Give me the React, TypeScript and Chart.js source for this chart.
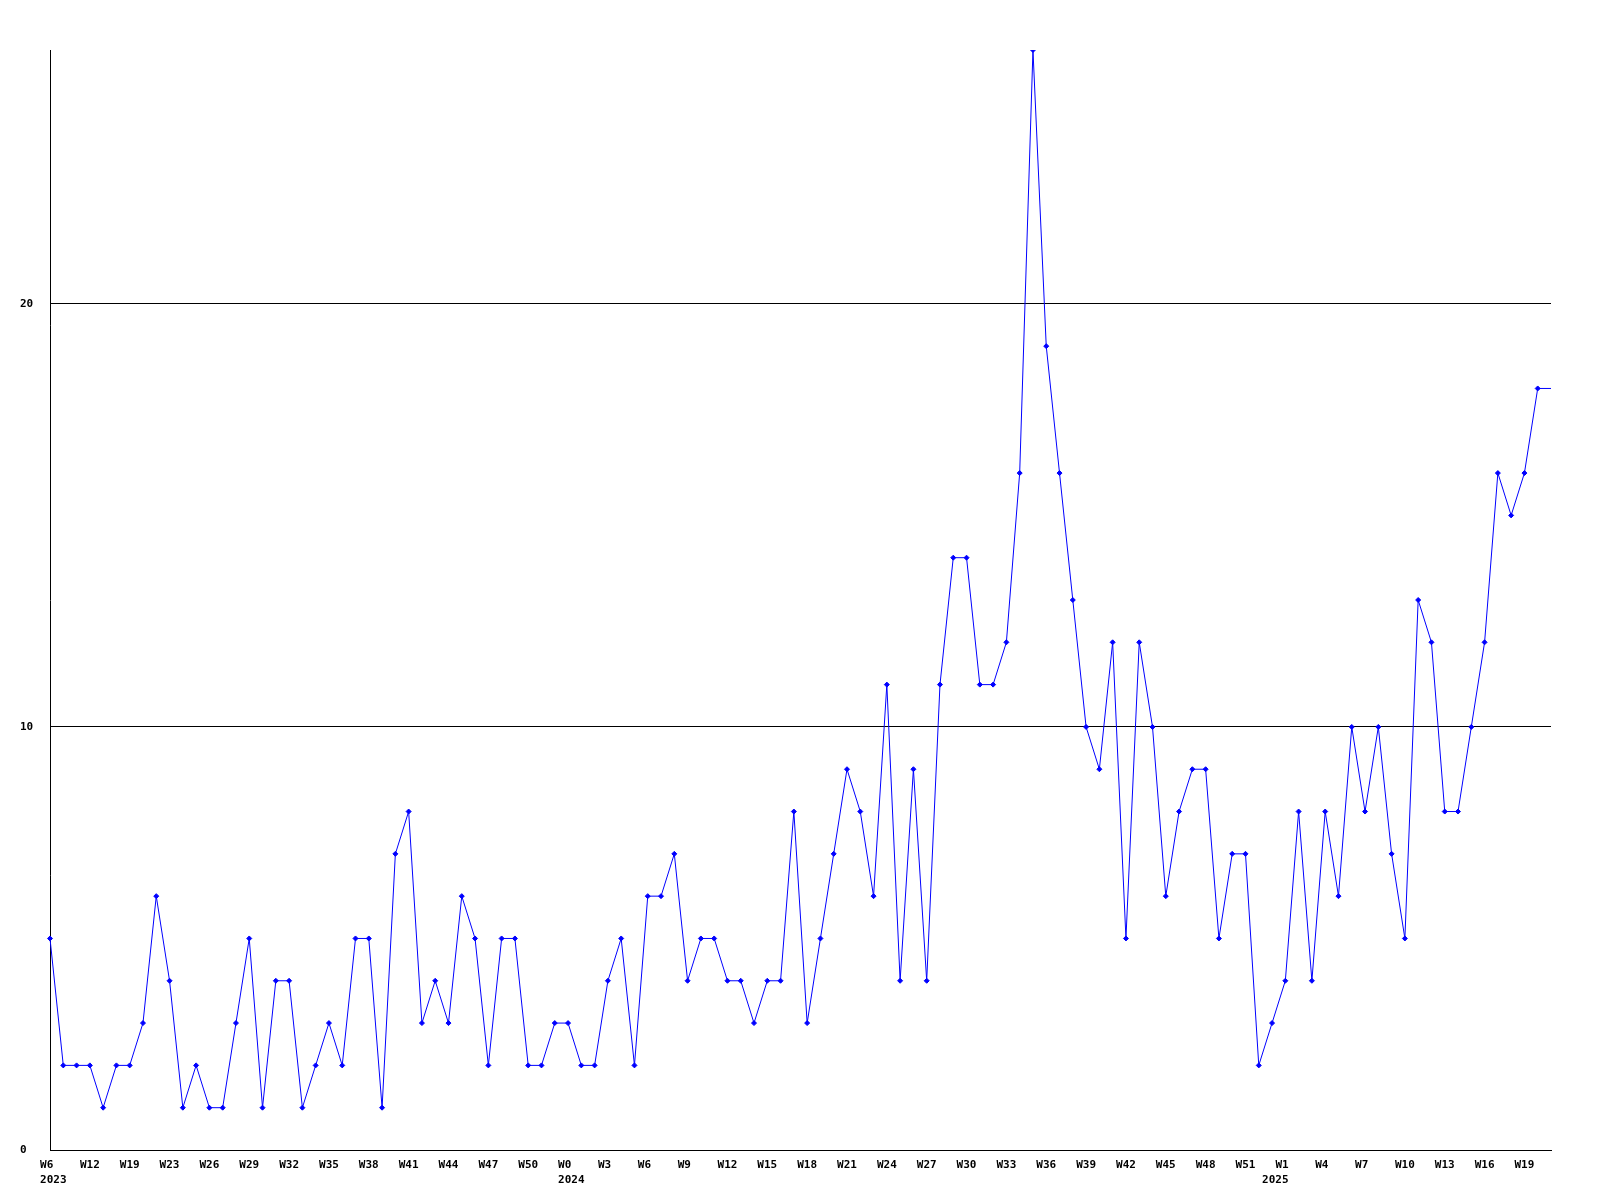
import React, { useEffect, useRef } from "react";
import { Chart, registerables } from "chart.js";

Chart.register(...registerables);

// Week labels, one per data point (2023 W6 ... 2025 W21)
const weekLabels: string[] = [
  "W6", "W7", "W9", "W12", "W14", "W17", "W19", "W20", "W22", "W23",
  "W24", "W25", "W26", "W27", "W28", "W29", "W30", "W31", "W32", "W33",
  "W34", "W35", "W36", "W37", "W38", "W39", "W40", "W41", "W42", "W43",
  "W44", "W45", "W46", "W47", "W48", "W49", "W50", "W51", "W52",
  "W0", "W1", "W2", "W3", "W4", "W5", "W6", "W7", "W8", "W9",
  "W10", "W11", "W12", "W13", "W14", "W15", "W16", "W17", "W18", "W19",
  "W20", "W21", "W22", "W23", "W24", "W25", "W26", "W27", "W28", "W29",
  "W30", "W31", "W32", "W33", "W34", "W35", "W36", "W37", "W38", "W39",
  "W40", "W41", "W42", "W43", "W44", "W45", "W46", "W47", "W48", "W49",
  "W50", "W51", "W52",
  "W0", "W1", "W2", "W3", "W4", "W5", "W6", "W7", "W8", "W9",
  "W10", "W11", "W12", "W13", "W14", "W15", "W16", "W17", "W18", "W19",
  "W20", "W21",
];

// Year shown under the first data point of each year
const yearLabels: Record<number, string> = { 0: "2023", 39: "2024", 92: "2025" };

const values: number[] = [
  5, 2, 2, 2, 1, 2, 2, 3, 6, 4,
  1, 2, 1, 1, 3, 5, 1, 4, 4, 1,
  2, 3, 2, 5, 5, 1, 7, 8, 3, 4,
  3, 6, 5, 2, 5, 5, 2, 2, 3, 3,
  2, 2, 4, 5, 2, 6, 6, 7, 4, 5,
  5, 4, 4, 3, 4, 4, 8, 3, 5, 7,
  9, 8, 6, 11, 4, 9, 4, 11, 14, 14,
  11, 11, 12, 16, 26, 19, 16, 13, 10, 9,
  12, 5, 12, 10, 6, 8, 9, 9, 5, 7,
  7, 2, 3, 4, 8, 4, 8, 6, 10, 8,
  10, 7, 5, 13, 12, 8, 8, 10, 12, 16,
  15, 16, 18, 18,
];

const yMin = 0;
const yMax = 26;
const yStep = 10;
const labelEvery = 3;

const tickFont = {
  family: '"DejaVu Sans Mono", "Liberation Mono", monospace',
  size: 11,
  weight: "bold" as const,
  lineHeight: "15px",
};

export default function App() {
  const canvasRef = useRef<HTMLCanvasElement | null>(null);

  useEffect(() => {
    if (!canvasRef.current) return;
    const lastIndex = values.length - 1;
    const chart = new Chart(canvasRef.current, {
      type: "line",
      data: {
        labels: weekLabels,
        datasets: [
          {
            data: values,
            borderColor: "#0000ff",
            backgroundColor: "#0000ff",
            borderWidth: 1,
            pointStyle: "rectRot",
            pointRadius: (ctx: any) => (ctx.dataIndex === lastIndex ? 0 : 2.5),
            pointBorderWidth: 1,
            pointBorderColor: "#0000ff",
            pointBackgroundColor: "#0000ff",
            tension: 0,
            fill: false,
          },
        ],
      },
      options: {
        animation: false,
        responsive: false,
        layout: { padding: { left: 20, right: 49, top: 50, bottom: 0 } },
        plugins: {
          legend: { display: false },
          tooltip: { enabled: false },
        },
        scales: {
          x: {
            type: "category",
            offset: false,
            grid: { display: false, drawTicks: false },
            border: { display: true, color: "#000000", width: 1 },
            ticks: {
              autoSkip: false,
              maxRotation: 0,
              minRotation: 0,
              padding: 8,
              color: "#000000",
              font: tickFont,
              callback: (_v: any, index: number) => {
                const wk = index % labelEvery === 0 ? weekLabels[index].padEnd(3, " ") : "";
                const yr = yearLabels[index];
                if (yr) return [wk, " " + yr];
                return wk;
              },
            },
            afterFit: (scale: any) => {
              scale.height = 50;
            },
          },
          y: {
            min: yMin,
            max: yMax,
            ticks: {
              stepSize: yStep,
              includeBounds: false,
              crossAlign: "far",
              padding: 0,
              color: "#000000",
              font: tickFont,
            },
            grid: { color: "#000000", lineWidth: 1, drawTicks: false },
            border: { display: true, color: "#000000", width: 1 },
            afterFit: (scale: any) => {
              scale.width = 30;
            },
          },
        },
      } as any,
    });
    return () => chart.destroy();
  }, []);

  return (
    <div style={{ position: "absolute", left: 0, top: 0, width: 1600, height: 1200, background: "#ffffff" }}>
      <canvas ref={canvasRef} width={1600} height={1200} style={{ width: 1600, height: 1200, display: "block" }} />
    </div>
  );
}
